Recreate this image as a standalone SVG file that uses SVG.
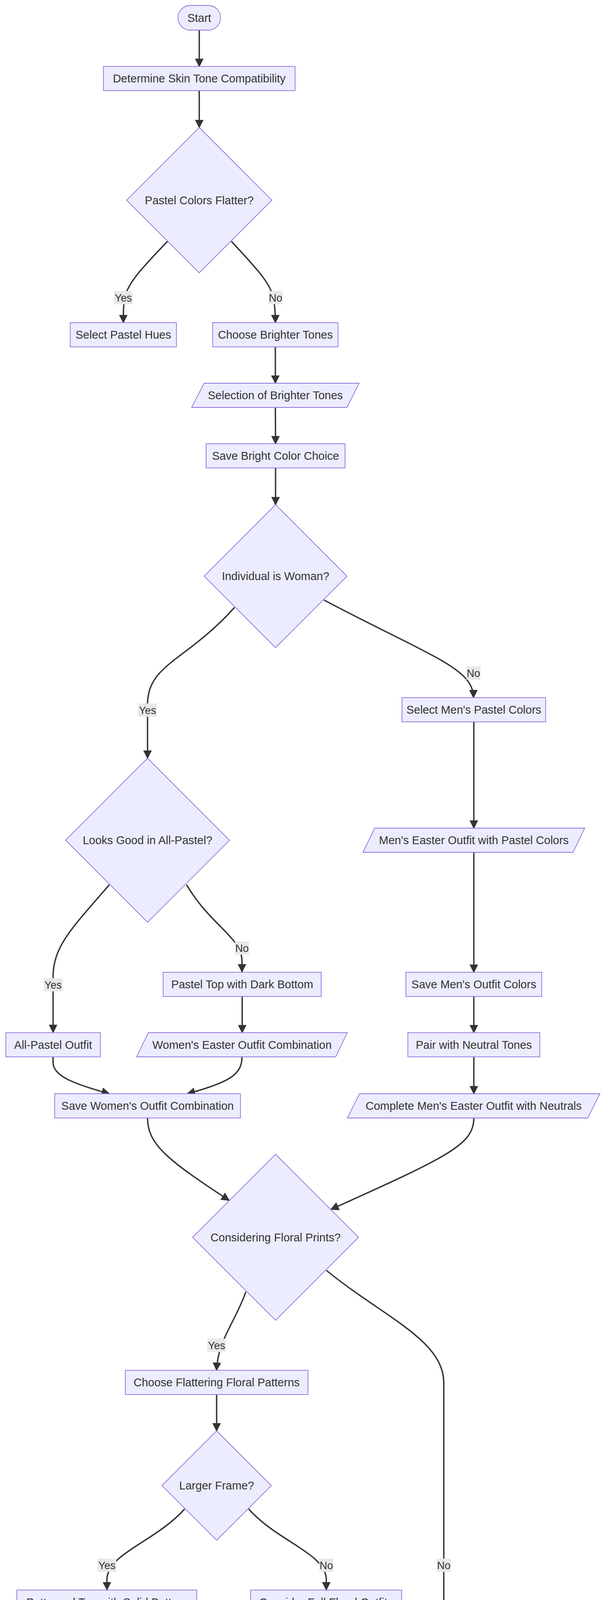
<svg xmlns="http://www.w3.org/2000/svg" width="1568" height="6046" viewBox="0 0 1568 6046">
<style>
.n rect, .n polygon { fill: #ECECFF; stroke: #9370DB; stroke-width: 1.8; }
.n text { font-family: "Liberation Sans", Arial, sans-serif; font-size: 29px; fill: #333333; text-anchor: middle; }
.e { fill: none; stroke: #333333; stroke-width: 3.5; marker-end: url(#arrow); }
.el rect { fill: #e8e8e8; }
.el text { font-family: "Liberation Sans", Arial, sans-serif; font-size: 27px; fill: #333333; text-anchor: middle; }
</style>
<defs>
<marker id="arrow" viewBox="0 0 10 10" refX="9" refY="5" markerUnits="userSpaceOnUse" markerWidth="22" markerHeight="22" orient="auto">
<path d="M0,0 L10,5 L0,10 z" fill="#333333"/>
</marker>
</defs>
<rect width="1568" height="6046" fill="#ffffff"/>

<g id="connectors">
<path class="e" d="M510.5,77 L510.5,170"/>
<path class="e" d="M510.5,232 L510.5,326.5"/>
<path class="e" d="M429,618 C370,680 330,720 320,760 C316,780 316,800 316,826"/>
<path class="e" d="M593,618 C650,680 690,720 700,760 C704,780 705.5,800 705.5,826"/>
<path class="e" d="M705.5,888 L705.5,981"/>
<path class="e" d="M705.5,1043 L706,1136"/>
<path class="e" d="M706,1198 L706,1292"/>
<path class="e" d="M601,1555 C480,1690 380,1700 378,1800 L378,1941"/>
<path class="e" d="M830,1536 C950,1600 1060,1650 1130,1690 C1190,1725 1213,1750 1213,1786"/>
<path class="e" d="M1214,1848 L1214,2120"/>
<path class="e" d="M280,2265 C190,2370 136,2420 136,2500 L136,2643"/>
<path class="e" d="M478,2265 C540,2370 620,2400 620,2460 L620,2488"/>
<path class="e" d="M620.5,2551 L620.5,2643.5"/>
<path class="e" d="M1214,2182 L1214,2489"/>
<path class="e" d="M1214,2551 L1214,2643.5"/>
<path class="e" d="M1214,2705.5 L1214,2800"/>
<path class="e" d="M136,2705.5 L136,2720 C136,2755 190,2775 280,2800"/>
<path class="e" d="M620,2705.5 C620,2750 590,2770 480,2800"/>
<path class="e" d="M378,2862 C378,2930 430,2970 587,3073"/>
<path class="e" d="M1214,2862 C1214,2930 1150,2960 848,3096"/>
<path class="e" d="M630,3307 C600,3390 558,3430 555,3508"/>
<path class="e" d="M836,3252 C980,3370 1137,3430 1137,3540 L1137,4283 C1137,4340 1080,4355 967,4381"/>
<path class="e" d="M555,3570 L555,3663"/>
<path class="e" d="M473,3863 C400,3945 280,3975 274,4040 L274,4070"/>
<path class="e" d="M637,3863 C710,3945 830,3975 836,4040 L836,4070"/>
<path class="e" d="M273.5,4133 L273.5,4226"/>
<path class="e" d="M835.5,4133 L836,4226"/>
<path class="e" d="M274,4288 L274,4300 C274,4345 400,4360 665,4390"/>
<path class="e" d="M836,4288 L835.5,4381"/>
<path class="e" d="M835.5,4443 L836,4537"/>
<path class="e" d="M710,4778 C600,4850 470,4900 400,4960 C320,5030 291,5100 291,5200 L290.5,5561"/>
<path class="e" d="M887,4852 C905,4920 930,4950 930,5028"/>
<path class="e" d="M845,5350 C790,5440 738,5480 736,5561"/>
<path class="e" d="M992,5372 C1030,5470 1046,5500 1046,5590 L1046,5800 C1046,5870 980,5890 884,5918"/>
<path class="e" d="M290.5,5623 C290.5,5690 340,5710 460,5751"/>
<path class="e" d="M736,5623 C736,5690 700,5710 620,5751"/>
<path class="e" d="M545,5813 C545,5870 600,5880 790,5925"/>
</g>

<g id="edge-labels">
<g class="el"><rect x="292" y="745" width="48" height="34"/><text x="316" y="772">Yes</text></g>
<g class="el"><rect x="688" y="745" width="36" height="34"/><text x="706" y="772">No</text></g>
<g class="el"><rect x="354" y="1801" width="48" height="34"/><text x="378" y="1828">Yes</text></g>
<g class="el"><rect x="1195" y="1706" width="36" height="34"/><text x="1213" y="1733">No</text></g>
<g class="el"><rect x="112" y="2504" width="48" height="34"/><text x="136" y="2531">Yes</text></g>
<g class="el"><rect x="602" y="2410" width="36" height="34"/><text x="620" y="2437">No</text></g>
<g class="el"><rect x="531" y="3427" width="48" height="34"/><text x="555" y="3454">Yes</text></g>
<g class="el"><rect x="250" y="3990" width="48" height="34"/><text x="274" y="4017">Yes</text></g>
<g class="el"><rect x="818" y="3990" width="36" height="34"/><text x="836" y="4017">No</text></g>
<g class="el"><rect x="1119" y="3990" width="36" height="34"/><text x="1137" y="4017">No</text></g>
<g class="el"><rect x="912" y="4950" width="36" height="34"/><text x="930" y="4977">No</text></g>
<g class="el"><rect x="266" y="5214" width="48" height="34"/><text x="290" y="5241">Yes</text></g>
<g class="el"><rect x="712" y="5480" width="48" height="34"/><text x="736" y="5507">Yes</text></g>
<g class="el"><rect x="1028" y="5670" width="36" height="34"/><text x="1046" y="5697">No</text></g>
</g>

<g id="node-start" class="n"><rect x="456" y="14" width="109" height="63" rx="31.5" ry="31.5"/><text x="510.5" y="56">Start</text></g>
<g id="node-determine" class="n"><rect x="265" y="170" width="491" height="62"/><text x="510.5" y="211">Determine Skin Tone Compatibility</text></g>
<g id="node-pastel-flatter" class="n"><polygon points="510.5,326.5 696.5,512.5 510.5,698.5 324.5,512.5"/><text x="510.5" y="522.5">Pastel Colors Flatter?</text></g>
<g id="node-select-pastel" class="n"><rect x="180" y="826" width="272" height="62"/><text x="316" y="867">Select Pastel Hues</text></g>
<g id="node-choose-brighter" class="n"><rect x="545" y="826" width="321" height="62"/><text x="705.5" y="867">Choose Brighter Tones</text></g>
<g id="node-selection-brighter" class="n"><polygon points="523,981 920,981 889,1043 491,1043"/><text x="705.5" y="1022">Selection of Brighter Tones</text></g>
<g id="node-save-bright" class="n"><rect x="528" y="1136" width="356" height="62"/><text x="706" y="1177">Save Bright Color Choice</text></g>
<g id="node-woman" class="n"><polygon points="706,1292 889,1475 706,1658 523,1475"/><text x="706" y="1485">Individual is Woman?</text></g>
<g id="node-mens-pastel" class="n"><rect x="1030" y="1786" width="368" height="62"/><text x="1214" y="1827">Select Men's Pastel Colors</text></g>
<g id="node-all-pastel-q" class="n"><polygon points="378,1941 588,2151 378,2361 168,2151"/><text x="378" y="2161">Looks Good in All-Pastel?</text></g>
<g id="node-mens-easter" class="n"><polygon points="960,2120 1498,2120 1468,2182 930,2182"/><text x="1214" y="2161">Men's Easter Outfit with Pastel Colors</text></g>
<g id="node-pastel-top" class="n"><rect x="418" y="2489" width="405" height="62"/><text x="620.5" y="2530">Pastel Top with Dark Bottom</text></g>
<g id="node-save-mens" class="n"><rect x="1040" y="2489" width="348" height="62"/><text x="1214" y="2530">Save Men's Outfit Colors</text></g>
<g id="node-all-pastel" class="n"><rect x="15" y="2643.5" width="242" height="62"/><text x="136" y="2684.5">All-Pastel Outfit</text></g>
<g id="node-womens-easter" class="n"><polygon points="380,2643.5 890,2643.5 860,2705.5 350,2705.5"/><text x="620" y="2684.5">Women's Easter Outfit Combination</text></g>
<g id="node-pair-neutral" class="n"><rect x="1045" y="2643.5" width="338" height="62"/><text x="1214" y="2684.5">Pair with Neutral Tones</text></g>
<g id="node-save-womens" class="n"><rect x="140" y="2800" width="476" height="62"/><text x="378" y="2841">Save Women's Outfit Combination</text></g>
<g id="node-complete-mens" class="n"><polygon points="921,2800 1537,2800 1506,2862 890,2862"/><text x="1213.5" y="2841">Complete Men's Easter Outfit with Neutrals</text></g>
<g id="node-floral-q" class="n"><polygon points="706,2955 918.5,3167.5 706,3380 493.5,3167.5"/><text x="706" y="3177.5">Considering Floral Prints?</text></g>
<g id="node-flattering" class="n"><rect x="321" y="3508" width="468" height="62"/><text x="555" y="3549">Choose Flattering Floral Patterns</text></g>
<g id="node-larger-frame" class="n"><polygon points="555,3663 695,3803 555,3943 415,3803"/><text x="555" y="3813">Larger Frame?</text></g>
<g id="node-patterned-top" class="n"><rect x="43" y="4070.5" width="461" height="62"/><text x="273.5" y="4111.5">Patterned Top with Solid Bottom</text></g>
<g id="node-full-floral" class="n"><rect x="642" y="4070.5" width="387" height="62"/><text x="835.5" y="4111.5">Consider Full Floral Outfits</text></g>
<g id="node-floral-attire" class="n"><polygon points="72,4226 506,4226 476,4288 41,4288"/><text x="273.5" y="4267">Floral Attire for Larger Frame</text></g>
<g id="node-selection-full" class="n"><polygon points="630,4226 1072,4226 1042,4288 600,4288"/><text x="836" y="4267">Selection of Full Floral Outfits</text></g>
<g id="node-floral-accents" class="n"><rect x="666" y="4381" width="339" height="62"/><text x="835.5" y="4422">Consider Floral Accents</text></g>
<g id="node-chilly" class="n"><polygon points="836,4537 1019,4720 836,4903 653,4720"/><text x="836" y="4730">Chilly Day Expected?</text></g>
<g id="node-man-floral" class="n"><polygon points="930,5029 1132,5231 930,5433 728,5231"/><text x="930" y="5241">Man Considering Floral?</text></g>
<g id="node-jacket" class="n"><rect x="109" y="5561" width="363" height="62"/><text x="290.5" y="5602">Floral Jacket or Cardigan</text></g>
<g id="node-tie" class="n"><rect x="565" y="5561" width="342" height="62"/><text x="736" y="5602">Sophisticated Floral Tie</text></g>
<g id="node-complete-easter" class="n"><polygon points="256,5751 864,5751 834,5813 226,5813"/><text x="545" y="5792">Complete Easter Attire with Floral Accents</text></g>
<g id="node-end" class="n"><rect x="790" y="5906" width="91" height="61" rx="30.5" ry="30.5"/><text x="835.5" y="5946.5">End</text></g>
</svg>
